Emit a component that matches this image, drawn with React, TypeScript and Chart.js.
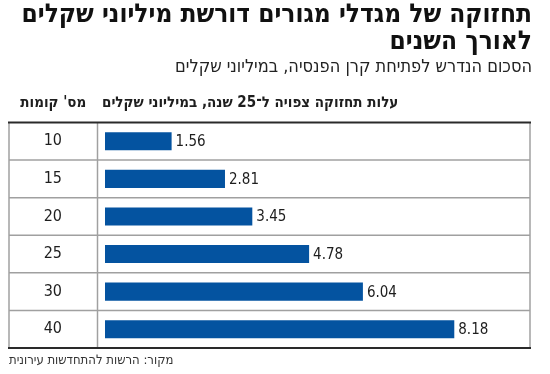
import React, { useEffect, useRef } from 'react';
import { Chart, registerables } from 'chart.js';

Chart.register(...registerables);

const floors = ['10', '15', '20', '25', '30', '40'];
const costs = [1.56, 2.81, 3.45, 4.78, 6.04, 8.18];
const titleLines = ['תחזוקה של מגדלי מגורים דורשת מיליוני שקלים', 'לאורך השנים'];
const subtitleText = 'הסכום הנדרש לפתיחת קרן הפנסיה, במיליוני שקלים';
const floorsHeader = "מס' קומות";
const costHeader = 'עלות תחזוקה צפויה ל־25 שנה, במיליוני שקלים';
const sourceText = 'מקור: הרשות להתחדשות עירונית';
const xMin = 0;
const xMax = 10;

const FONT = "'Liberation Sans Narrow', 'DejaVu Sans Condensed', 'DejaVu Sans', sans-serif";
const TITLE_FONT = "'DejaVu Sans Condensed', 'DejaVu Sans', sans-serif";
const BAR_COLOR = '#0453a0';
const TEXT_COLOR = '#1e1e1e';
const TABLE_LEFT = 9;
const TABLE_DIVIDER = 97.5;
const TABLE_RIGHT = 530;

const tablePlugin = {
  id: 'tablePlugin',
  beforeDatasetsDraw(chart: any) {
    const { ctx, chartArea, scales } = chart;
    const y = scales.y;
    const n = floors.length;
    const top = chartArea.top;
    const bottom = chartArea.bottom;
    ctx.save();
    ctx.strokeStyle = '#a0a0a0';
    ctx.lineWidth = 1.5;
    for (let i = 0; i < n - 1; i++) {
      const yy = (y.getPixelForValue(i) + y.getPixelForValue(i + 1)) / 2;
      ctx.beginPath();
      ctx.moveTo(TABLE_LEFT, yy);
      ctx.lineTo(TABLE_RIGHT, yy);
      ctx.stroke();
    }
    [TABLE_LEFT, TABLE_DIVIDER, TABLE_RIGHT].forEach((xx) => {
      ctx.beginPath();
      ctx.moveTo(xx, top);
      ctx.lineTo(xx, bottom);
      ctx.stroke();
    });
    ctx.strokeStyle = '#2a2a2a';
    ctx.lineWidth = 2;
    [top, bottom].forEach((yy) => {
      ctx.beginPath();
      ctx.moveTo(TABLE_LEFT - 1, yy);
      ctx.lineTo(TABLE_RIGHT + 1, yy);
      ctx.stroke();
    });
    ctx.fillStyle = TEXT_COLOR;
    ctx.font = `bold 15px ${FONT}`;
    ctx.textBaseline = 'middle';
    ctx.textAlign = 'center';
    ctx.fillText(floorsHeader, (TABLE_LEFT + TABLE_DIVIDER) / 2, top - 19);
    ctx.textAlign = 'left';
    ctx.fillText(costHeader, chartArea.left - 3, top - 19);
    ctx.font = `13px ${FONT}`;
    ctx.textAlign = 'left';
    ctx.fillStyle = '#333333';
    ctx.fillText(sourceText, TABLE_LEFT, bottom + 13);
    ctx.restore();
  },
  afterDatasetsDraw(chart: any) {
    const { ctx } = chart;
    const meta = chart.getDatasetMeta(0);
    ctx.save();
    ctx.fillStyle = TEXT_COLOR;
    ctx.font = `15px ${FONT}`;
    ctx.textAlign = 'left';
    ctx.textBaseline = 'middle';
    meta.data.forEach((el: any, i: number) => {
      ctx.fillText(costs[i].toFixed(2), el.x + 4, el.y + 1);
    });
    ctx.restore();
  },
};

export default function App() {
  const ref = useRef<HTMLCanvasElement | null>(null);
  useEffect(() => {
    if (!ref.current) return;
    const chart = new Chart(ref.current, {
      type: 'bar',
      data: {
        labels: floors,
        datasets: [
          {
            data: costs,
            backgroundColor: BAR_COLOR,
            borderWidth: 0,
            barPercentage: 0.48,
            categoryPercentage: 1,
          },
        ],
      },
      options: {
        indexAxis: 'y',
        animation: false,
        responsive: true,
        maintainAspectRatio: false,
        devicePixelRatio: 1,
        layout: { padding: { top: 0, left: 0, right: 18, bottom: 26 } },
        plugins: {
          legend: { display: false },
          tooltip: { enabled: false },
          title: {
            display: true,
            text: titleLines,
            align: 'end',
            color: '#111111',
            font: { family: TITLE_FONT, size: 26, weight: 'bold', lineHeight: 1.06 },
            padding: { top: 1, bottom: 0 },
          },
          subtitle: {
            display: true,
            text: subtitleText,
            align: 'end',
            color: '#222222',
            font: { family: FONT, size: 18, lineHeight: 1.3 },
            padding: { top: 0, bottom: 43 },
          },
        },
        scales: {
          x: { display: false, min: xMin, max: xMax },
          y: {
            grid: { display: false, drawTicks: false },
            border: { display: false },
            ticks: {
              color: TEXT_COLOR,
              font: { family: FONT, size: 16 },
              crossAlign: 'center',
              padding: 43,
            },
            afterFit(scale: any) {
              scale.width = 105;
              scale.paddingTop = 0;
              scale.paddingBottom = 0;
            },
          },
        },
      },
      plugins: [tablePlugin],
    });
    return () => chart.destroy();
  }, []);
  return (
    <div style={{ position: 'fixed', left: 0, top: 0, width: 550, height: 374, background: '#ffffff' }}>
      <canvas ref={ref} dir="rtl" style={{ direction: 'rtl' }} />
    </div>
  );
}
